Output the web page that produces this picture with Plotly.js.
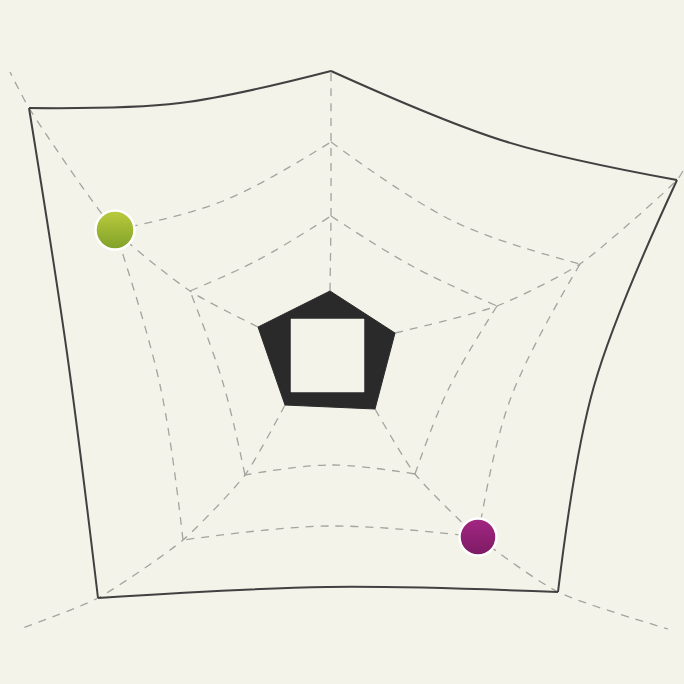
<!DOCTYPE html>
<html>
<head>
<meta charset="utf-8">
<script src="https://cdn.plot.ly/plotly-3.0.1.min.js"></script>
<style>html,body{margin:0;padding:0;background:#f3f3e9;}#chart{width:684px;height:684px;}</style>
</head>
<body>
<div id="chart"></div>
<script>
// Web geometry, vertex order: top, right, bottom-right, bottom-left, left
const hubX   = [330, 395, 375, 285, 258];
const hubY   = [291, 333, 409, 405, 327];
const ring2X = [331, 497, 415, 245, 190];
const ring2Y = [216, 306, 474, 475, 291];
const ring3X = [331, 580, 478, 183, 115];
const ring3Y = [142, 264, 537, 540, 230];
const outerX = [331, 677, 558, 98, 29];
const outerY = [71, 180, 592, 598, 108];
const tailX  = [null, 683, 668, 20, 10];
const tailY  = [null, 171, 629, 629, 72];
// sag points of each edge (edge i joins vertex i and vertex i+1)
const ring2MidX = [412, 448, 330, 223, 258];
const ring2MidY = [266, 390, 465, 383, 260];
const ring3MidX = [455, 510, 330, 160, 223];
const ring3MidY = [222, 400, 526, 385, 201];
const outerMidX = [504, 594, 328, 67, 180];
const outerMidY = [141, 386, 587, 353, 103];
// inner window
const holeX = [291, 364, 364, 291];
const holeY = [319, 319, 392, 392];
// dots
const dotNames = ["green", "magenta"];
const dotX = [115, 478];
const dotY = [230, 537];
const dotSizes = [39, 37];
const dotColors = ["#bccb3c", "#a32783"];
const dotShade = ["#7fa12a", "#7d1a63"];

const BG = "#f3f3e9";

function ringTrace(vx, vy, mx, my, color, width, dash) {
  const x = [], y = [];
  for (let i = 0; i < vx.length; i++) {
    const j = (i + 1) % vx.length;
    x.push(vx[i], mx[i], vx[j], null);
    y.push(vy[i], my[i], vy[j], null);
  }
  return {type: "scatter", mode: "lines", x, y, hoverinfo: "skip",
    line: {color, width, dash, shape: "spline", smoothing: 1}, connectgaps: false};
}

function spokeTrace() {
  const x = [], y = [];
  for (let i = 0; i < hubX.length; i++) {
    x.push(hubX[i], ring2X[i], ring3X[i], outerX[i]);
    y.push(hubY[i], ring2Y[i], ring3Y[i], outerY[i]);
    if (tailX[i] !== null) { x.push(tailX[i]); y.push(tailY[i]); }
    x.push(null); y.push(null);
  }
  return {type: "scatter", mode: "lines", x, y, hoverinfo: "skip",
    line: {color: "#a4a4a0", width: 1.3, dash: "8px,7px", shape: "spline", smoothing: 0.6}, connectgaps: false};
}

const traces = [
  spokeTrace(),
  ringTrace(ring2X, ring2Y, ring2MidX, ring2MidY, "#a4a4a0", 1.3, "8px,7px"),
  ringTrace(ring3X, ring3Y, ring3MidX, ring3MidY, "#a4a4a0", 1.3, "8px,7px"),
  ringTrace(outerX, outerY, outerMidX, outerMidY, "#414141", 2, "solid"),
  {type: "scatter", mode: "lines", x: hubX.concat([hubX[0]]), y: hubY.concat([hubY[0]]),
   fill: "toself", fillcolor: "#2a2a2a", line: {color: "#2a2a2a", width: 1}, hoverinfo: "skip"},
  {type: "scatter", mode: "lines", x: holeX.concat([holeX[0]]), y: holeY.concat([holeY[0]]),
   fill: "toself", fillcolor: BG, line: {color: BG, width: 0.5}, hoverinfo: "skip"},
  {type: "scatter", mode: "markers", x: dotX, y: dotY, text: dotNames, hoverinfo: "text",
   marker: {size: dotSizes, opacity: 1, color: dotColors, line: {color: "#ffffff", width: 2.5},
            gradient: {type: "vertical", color: dotShade}}}
];

const layout = {
  width: 684, height: 684,
  margin: {l: 0, r: 0, t: 0, b: 0},
  paper_bgcolor: BG, plot_bgcolor: BG,
  showlegend: false,
  xaxis: {range: [0, 684], visible: false, fixedrange: true},
  yaxis: {range: [684, 0], visible: false, fixedrange: true}
};

Plotly.newPlot("chart", traces, layout, {displayModeBar: false, staticPlot: true});
</script>
</body>
</html>
